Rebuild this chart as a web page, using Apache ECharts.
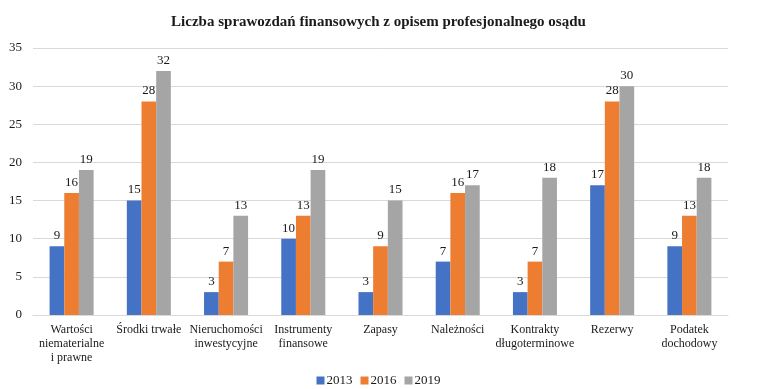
<!DOCTYPE html>
<html><head><meta charset="utf-8">
<script src="https://cdn.jsdelivr.net/npm/echarts@6/dist/echarts.min.js"></script>
<style>html,body{margin:0;padding:0;background:#fff}#c{width:757px;height:389px}</style>
</head><body><div id="c"></div>
<script>
const categories = ["Wartości\nniematerialne\ni prawne","Środki trwałe","Nieruchomości\ninwestycyjne","Instrumenty\nfinansowe","Zapasy","Należności","Kontrakty\ndługoterminowe","Rezerwy","Podatek\ndochodowy"];
const s2013 = [9,15,3,10,3,7,3,17,9];
const s2016 = [16,28,7,13,9,16,7,28,13];
const s2019 = [19,32,13,19,15,17,18,30,18];
const seriesNames = ["2013","2016","2019"];
const colors = ["#4472C4","#ED7D31","#A5A5A5"];
const font = "'Liberation Serif','Times New Roman',serif";
const chart = echarts.init(document.getElementById('c'));
const mk = (name, data, color) => ({
  name, type:'bar', data, barGap:'0%', barCategoryGap:'43%',
  itemStyle:{color},
  label:{show:true, position:'top', fontFamily:font, fontSize:13, color:'#1a1a1a', distance:4}
});
chart.setOption({
  animation:false,
  textStyle:{fontFamily:font},
  title:{text:'Liczba sprawozdań finansowych z opisem profesjonalnego osądu', left:'center', top:10,
    textStyle:{fontFamily:font, fontSize:15, fontWeight:'bold', color:'#1a1a1a'}},
  legend:{top:369, left:'center', itemWidth:8, itemHeight:8, itemGap:8, icon:'rect',
    textStyle:{fontFamily:font, fontSize:13, color:'#1a1a1a', padding:[0,0,0,-3]}},
  grid:{left:33, right:29, top:48, bottom:74},
  xAxis:{type:'category', data:categories,
    axisLine:{lineStyle:{color:'#d9d9d9'}}, axisTick:{show:false},
    axisLabel:{interval:0, fontFamily:font, fontSize:12, color:'#1a1a1a', lineHeight:14, margin:8}},
  yAxis:{type:'value', min:0, max:35, interval:5,
    axisLine:{show:false}, axisTick:{show:false},
    splitLine:{lineStyle:{color:'#d9d9d9'}},
    axisLabel:{fontFamily:font, fontSize:13, color:'#1a1a1a', margin:11}},
  series:[mk(seriesNames[0], s2013, colors[0]), mk(seriesNames[1], s2016, colors[1]), mk(seriesNames[2], s2019, colors[2])]
});
</script></body></html>
